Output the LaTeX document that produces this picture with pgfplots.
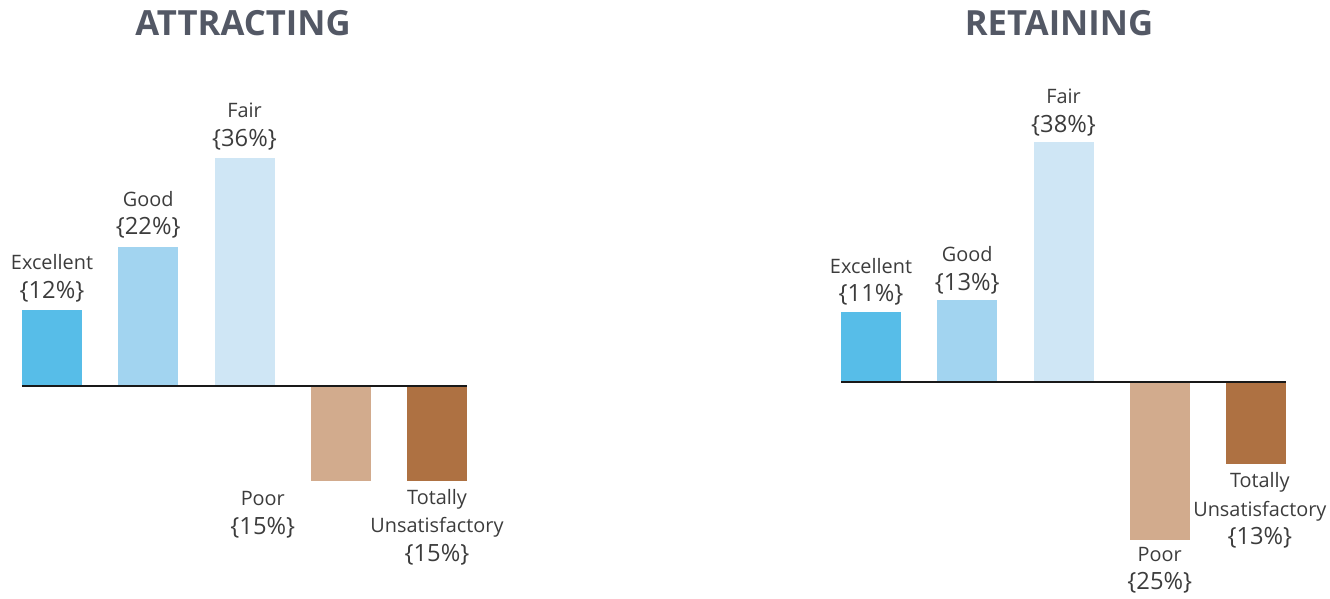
\documentclass[border=0pt]{standalone}
\usepackage{pgfplots}
\pgfplotsset{compat=1.18}
\usepackage{fontspec}
\setmainfont{Open Sans}
\definecolor{cExc}{HTML}{57BDE8}
\definecolor{cGood}{HTML}{A2D4F0}
\definecolor{cFair}{HTML}{CFE6F5}
\definecolor{cPoor}{HTML}{D2AB8D}
\definecolor{cTot}{HTML}{AE7142}
\definecolor{ttl}{HTML}{535865}
\definecolor{txt}{HTML}{3C3C3C}
\pgfplotsset{
  panel/.style={
    scale only axis, clip=false,
    x=72.1875pt, y=4.74pt,
    xmin=-0.3117, xmax=4.3117, ymin=-30, ymax=40,
    axis line style={draw=none}, ticks=none,
    ybar, bar width=45pt, bar shift=0pt,
    every axis plot/.append style={draw=none},
  },
}
\tikzset{lab/.style={font=\fontsize{14.9}{21.5}\selectfont, text=txt, align=center, inner sep=0pt}}
\newcommand{\pct}[1]{{\fontsize{17.8}{21.5}\selectfont\{#1\%\}}}
\begin{document}
\begin{tikzpicture}
\useasboundingbox (0,0) rectangle (997.5pt,449.25pt);
\node[font=\bfseries\fontsize{26}{30}\selectfont, text=ttl, anchor=base] at (182.25pt,422.25pt) {ATTRACTING};
\node[font=\bfseries\fontsize{26}{30}\selectfont, text=ttl, anchor=base] at (794.25pt,422.25pt) {RETAINING};

% attracting
\begin{axis}[panel, anchor=south west, at={(16.5pt,17.55pt)}]
\addplot[fill=cExc] coordinates {(0,12)};
\addplot[fill=cGood] coordinates {(1,22)};
\addplot[fill=cFair] coordinates {(2,36)};
\addplot[fill=cPoor] coordinates {(3,-15)};
\addplot[fill=cTot] coordinates {(4,-15)};
\draw[line width=1.3pt, black!90] (axis cs:-0.3117,0) -- (axis cs:4.3117,0);
\node[lab, anchor=south, yshift=6pt] at (axis cs:0,12) {Excellent\\\pct{12}};
\node[lab, anchor=south, yshift=6pt] at (axis cs:1,22) {Good\\\pct{22}};
\node[lab, anchor=south, yshift=6pt] at (axis cs:2,36) {Fair\\\pct{36}};
\node[lab, anchor=north, yshift=-8pt] at (axis cs:2.19,-15) {Poor\\\pct{15}};
\node[lab, anchor=north, yshift=-6pt] at (axis cs:4,-15) {Totally\\Unsatisfactory\\\pct{15}};
\end{axis}

% retaining
\begin{axis}[panel, anchor=south west, at={(630.75pt,20.55pt)}]
\addplot[fill=cExc] coordinates {(0,11)};
\addplot[fill=cGood] coordinates {(1,13)};
\addplot[fill=cFair] coordinates {(2,38)};
\addplot[fill=cPoor] coordinates {(3,-25)};
\addplot[fill=cTot] coordinates {(4,-13)};
\draw[line width=1.3pt, black!90] (axis cs:-0.3117,0) -- (axis cs:4.3117,0);
\node[lab, anchor=south, yshift=5pt] at (axis cs:0,11) {Excellent\\\pct{11}};
\node[lab, anchor=south, yshift=4pt] at (axis cs:1,13) {Good\\\pct{13}};
\node[lab, anchor=south, yshift=4pt] at (axis cs:2,38) {Fair\\\pct{38}};
\node[lab, anchor=north, yshift=-5pt] at (axis cs:3,-25) {Poor\\\pct{25}};
\node[lab, anchor=north, yshift=-6pt] at (axis cs:4.04,-13) {Totally\\Unsatisfactory\\\pct{13}};
\end{axis}
\end{tikzpicture}
\end{document}
